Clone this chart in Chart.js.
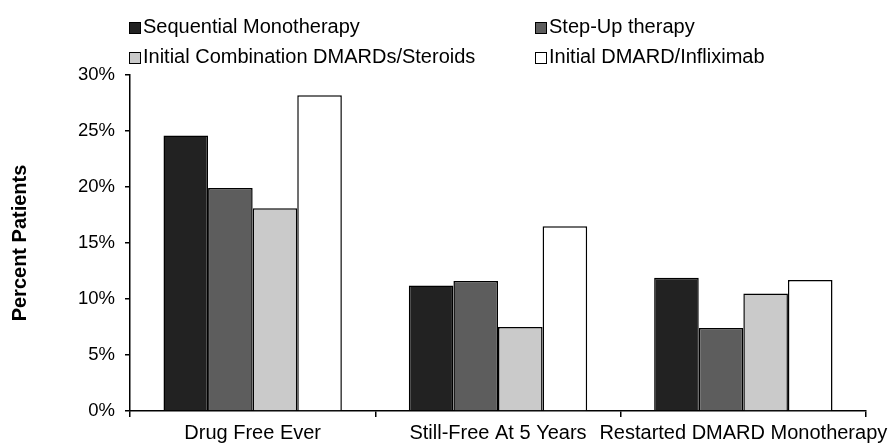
<!DOCTYPE html>
<html>
<head>
<meta charset="utf-8">
<script src="https://cdn.jsdelivr.net/npm/chart.js@4"></script>
<style>
  html, body { margin: 0; padding: 0; background: #fff; }
  #wrap { position: relative; width: 889px; height: 447px; }
  .leg { position: absolute; font: 20px "Liberation Sans", Arial, sans-serif; color: #000; line-height: 24px; white-space: nowrap; }
  .leg i { display: inline-block; width: 10px; height: 10px; border: 1.5px solid #000; margin-right: 2px; vertical-align: -1px; }
</style>
</head>
<body>
<div id="wrap">
  <canvas id="chart" width="889" height="447"></canvas>
  <div class="leg" style="left:129px; top:14px;"><i style="background:#222222"></i>Sequential Monotherapy</div>
  <div class="leg" style="left:535px; top:14px;"><i style="background:#5d5d5d"></i>Step-Up therapy</div>
  <div class="leg" style="left:129px; top:44px;"><i style="background:#cacaca"></i>Initial Combination DMARDs/Steroids</div>
  <div class="leg" style="left:535px; top:44px;"><i style="background:#ffffff"></i>Initial DMARD/Infliximab</div>
</div>
<script>
// values (percent of patients)
const categories = ['Drug Free Ever', 'Still-Free At 5 Years', 'Restarted DMARD Monotherapy'];
const seqMono = [24.6, 11.2, 11.9];
const stepUp = [19.9, 11.6, 7.4];
const initCombo = [18.1, 7.5, 10.5];
const initInflix = [28.2, 16.5, 11.7];

const font = '"Liberation Sans", Arial, sans-serif';

const ctx = document.getElementById('chart').getContext('2d');
new Chart(ctx, {
  type: 'bar',
  data: {
    labels: categories,
    datasets: [
      { label: 'Sequential Monotherapy', data: seqMono, backgroundColor: '#222222' },
      { label: 'Step-Up therapy', data: stepUp, backgroundColor: '#5d5d5d' },
      { label: 'Initial Combination DMARDs/Steroids', data: initCombo, backgroundColor: '#cacaca' },
      { label: 'Initial DMARD/Infliximab', data: initInflix, backgroundColor: '#ffffff' }
    ]
  },
  options: {
    responsive: false,
    animation: false,
    layout: { padding: { top: 75, right: 23, bottom: 0, left: 0 } },
    datasets: {
      bar: {
        borderColor: '#000',
        borderWidth: 1.5,
        categoryPercentage: 0.727,
        barPercentage: 1
      }
    },
    plugins: {
      legend: { display: false },
      tooltip: { enabled: false }
    },
    scales: {
      x: {
        // the last label is allowed to run to the canvas edge like in the figure
        afterFit: s => { s.height = 36; s.paddingRight = 0; s.paddingLeft = 0; },
        border: { color: '#000', width: 1.5 },
        grid: { drawOnChartArea: false, drawTicks: true, tickLength: 6, color: '#000', lineWidth: 1.5 },
        ticks: { color: '#000', font: { family: font, size: 20 }, maxRotation: 0, autoSkip: false, padding: 4 }
      },
      y: {
        min: 0,
        max: 30,
        afterFit: s => { s.width = 130; },
        border: { color: '#000', width: 1.5 },
        grid: { drawOnChartArea: false, drawTicks: true, tickLength: 5, color: '#000', lineWidth: 1.5 },
        ticks: {
          stepSize: 5,
          color: '#000',
          padding: 10,
          font: { family: font, size: 18.5 },
          callback: v => v + '%'
        },
        title: {
          display: true,
          text: 'Percent Patients',
          color: '#000',
          font: { family: font, size: 20, weight: 'bold' },
          padding: { top: 8, bottom: 0 }
        }
      }
    }
  }
});
</script>
</body>
</html>
